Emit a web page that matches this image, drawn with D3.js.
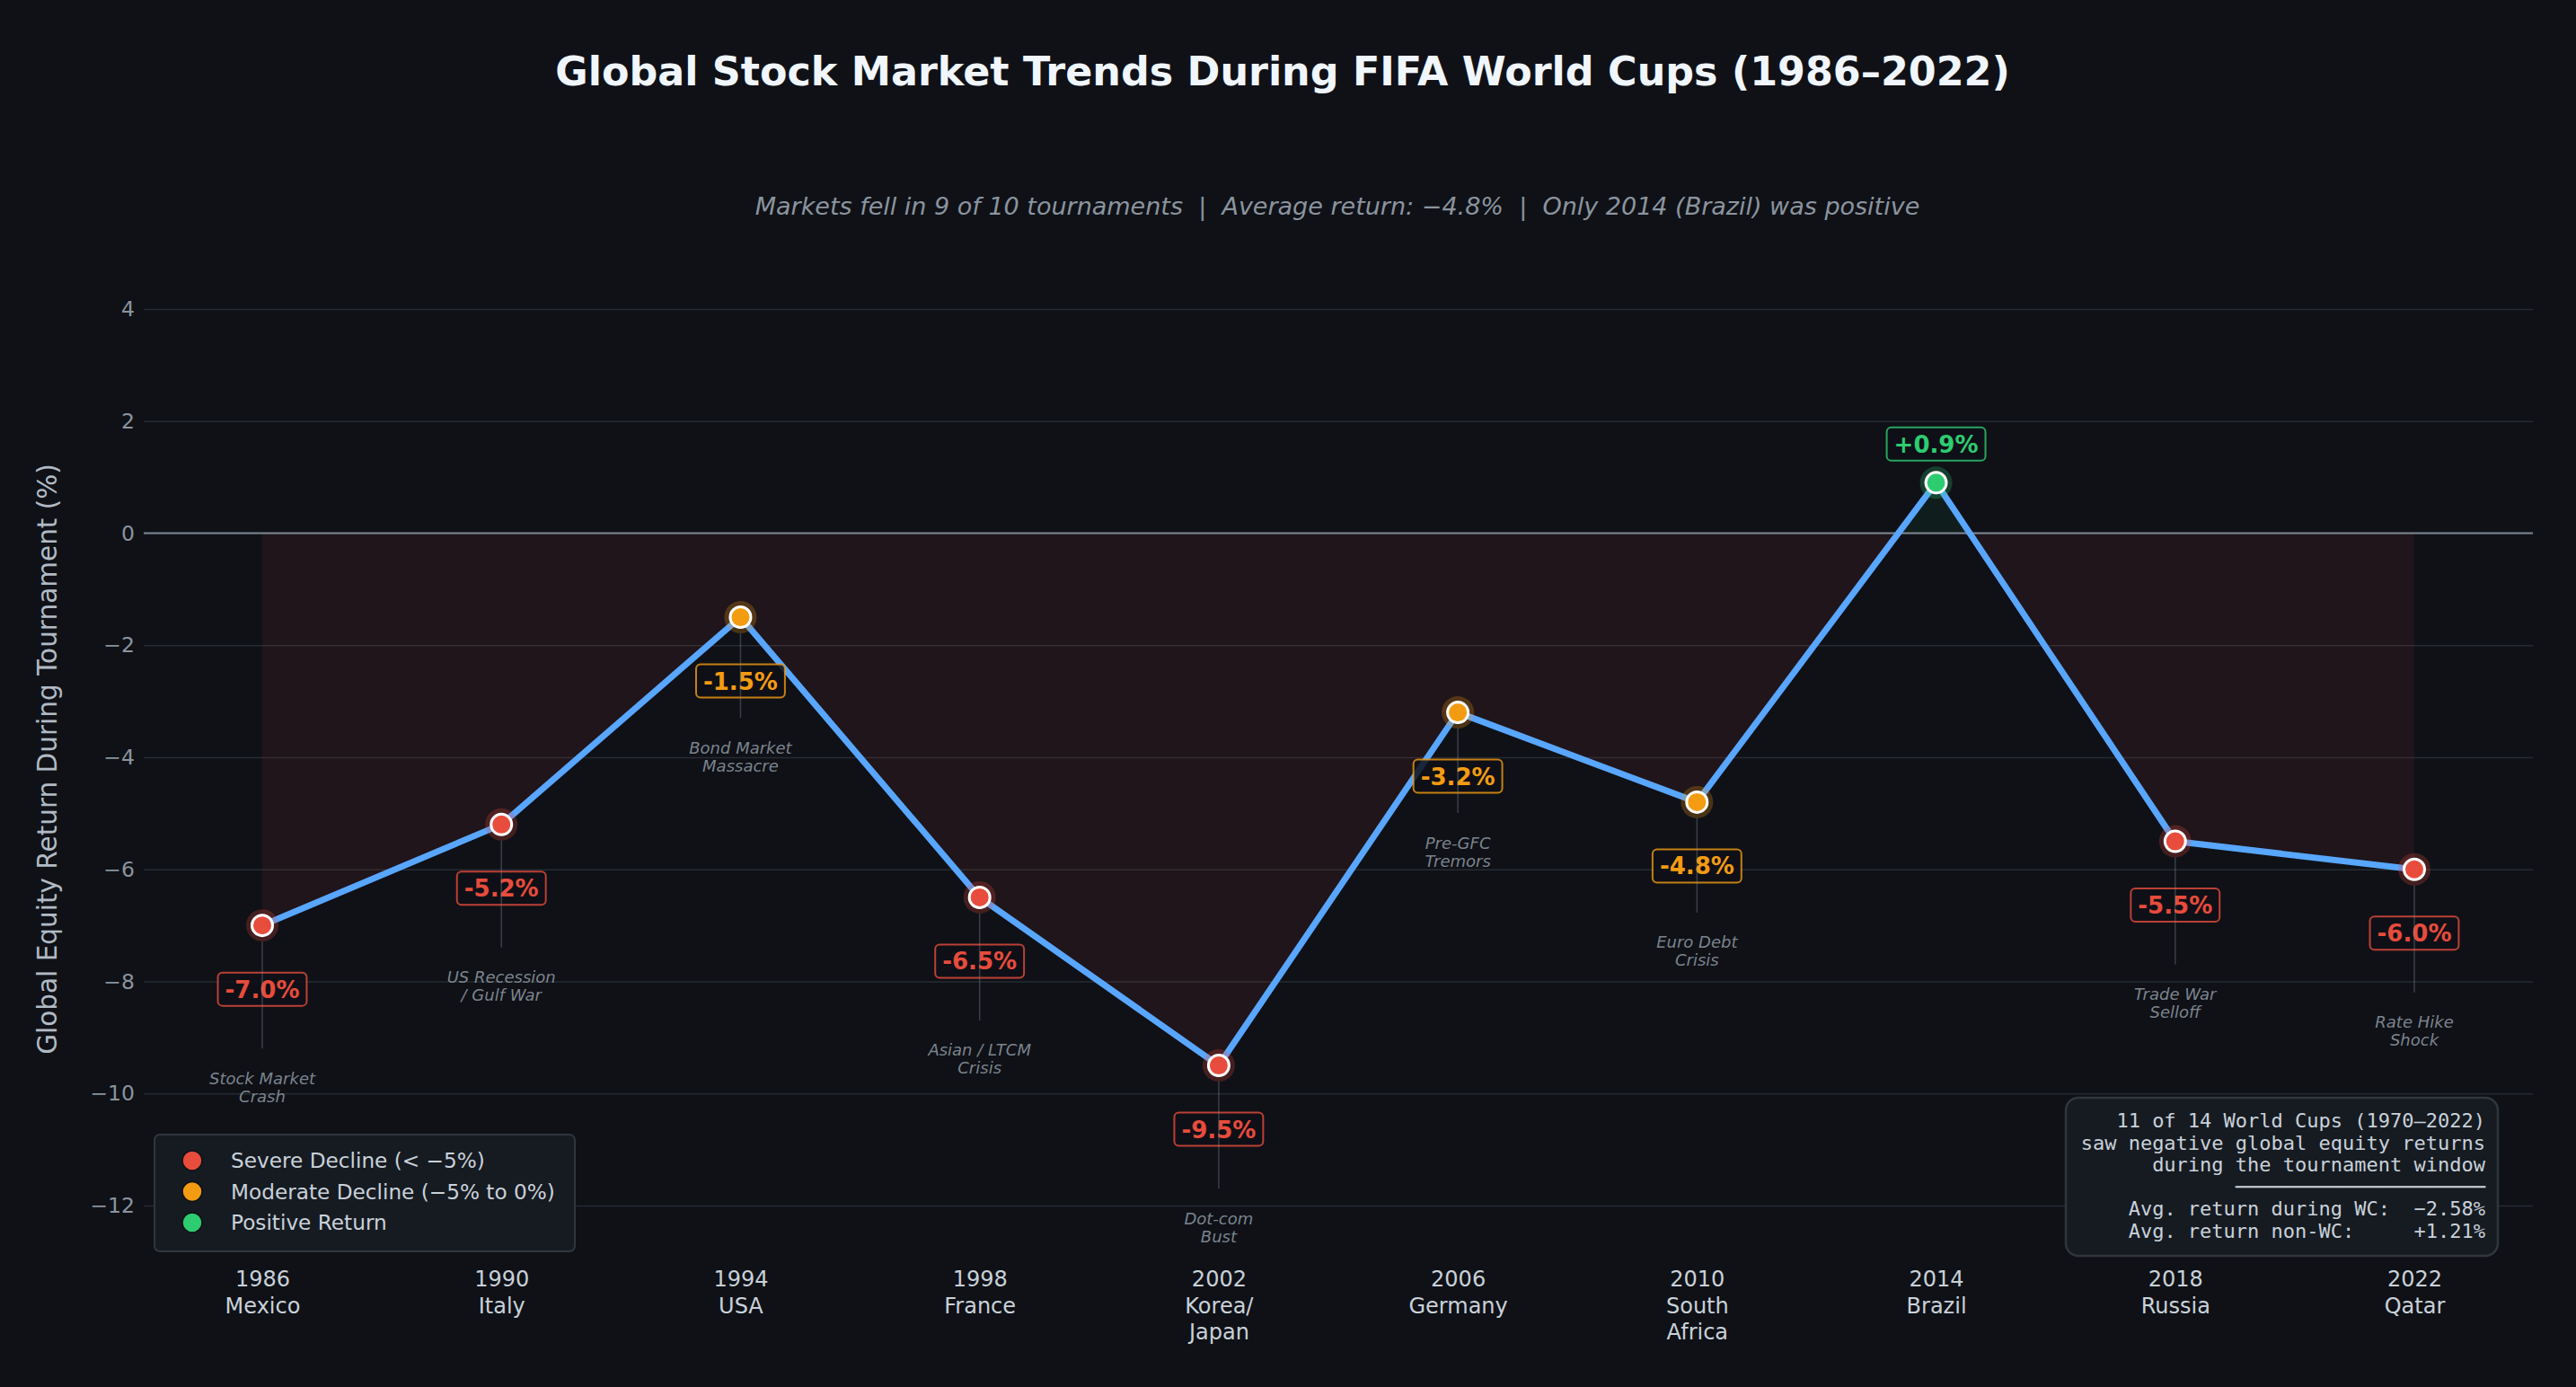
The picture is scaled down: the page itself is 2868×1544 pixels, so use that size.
<!DOCTYPE html>
<html>
<head>
<meta charset="utf-8">
<script src="https://cdn.jsdelivr.net/npm/d3@7"></script>
<style>
  body { margin: 0; background: #0f1117; }
  text { font-family: "DejaVu Sans", sans-serif; }
  .mono { font-family: "DejaVu Sans Mono", monospace; white-space: pre; }
</style>
</head>
<body>
<div class="canvas"></div>
<script>
// data
const years = ['1986', '1990', '1994', '1998', '2002', '2006', '2010', '2014', '2018', '2022'];
const hosts = ['Mexico', 'Italy', 'USA', 'France', 'Korea/\nJapan', 'Germany', 'South\nAfrica', 'Brazil', 'Russia', 'Qatar'];
const returns = [-7.0, -5.2, -1.5, -6.5, -9.5, -3.2, -4.8, 0.9, -5.5, -6.0];
const events = ['Stock Market\nCrash', 'US Recession\n/ Gulf War', 'Bond Market\nMassacre', 'Asian / LTCM\nCrisis',
    'Dot-com\nBust', 'Pre-GFC\nTremors', 'Euro Debt\nCrisis', '', 'Trade War\nSelloff', 'Rate Hike\nShock'];
const yTicks = [-12, -10, -8, -6, -4, -2, 0, 2, 4];
const legendLabels = ['Severe Decline (< \u22125%)', 'Moderate Decline (\u22125% to 0%)', 'Positive Return'];
const summaryLines = [
    '11 of 14 World Cups (1970\u20132022)',
    'saw negative global equity returns',
    'during the tournament window',
    '\u2500'.repeat(21),
    'Avg. return during WC:  \u22122.58%',
    'Avg. return non-WC:     +1.21%'
];

const data = years.map((yr, i) => ({ year: yr, host: hosts[i], value: returns[i], event: events[i] }));

const W = 2868, H = 1544;
const plot = { left: 160, right: 2820 };
const colors = { severe: '#e74c3c', moderate: '#f39c12', positive: '#2ecc71' };
const catColor = v => v < -5 ? colors.severe : (v < 0 ? colors.moderate : colors.positive);

const svg = d3.select('.canvas').append('svg')
    .attr('width', W)
    .attr('height', H);

svg.append('rect').attr('width', W).attr('height', H).attr('fill', '#0f1117');

const x = d3.scalePoint().domain(years).range([292, 2688]);
const y = d3.scaleLinear().domain([-12, 4]).range([1342, 344]);

// title + subtitle
svg.append('text')
    .attr('x', W / 2 - 6).attr('y', 95)
    .attr('text-anchor', 'middle')
    .attr('font-size', 44.4).attr('font-weight', 'bold')
    .attr('fill', '#f0f6fc')
    .text('Global Stock Market Trends During FIFA World Cups (1986\u20132022)');

svg.append('text')
    .attr('x', 1489).attr('y', 239)
    .attr('text-anchor', 'middle')
    .attr('font-size', 27).attr('font-style', 'italic')
    .attr('fill', '#8b949e')
    .style('white-space', 'pre')
    .text('Markets fell in 9 of 10 tournaments  |  Average return: \u22124.8%  |  Only 2014 (Brazil) was positive');

// y axis + grid
const yAxis = d3.axisLeft(y)
    .tickValues(yTicks)
    .tickSize(-(plot.right - plot.left))
    .tickPadding(10);

const yAxisGroup = svg.append('g')
    .attr('transform', `translate(${plot.left}, 0)`)
    .call(yAxis);

yAxisGroup.select('.domain').remove();
yAxisGroup.selectAll('line').attr('stroke', '#262b33').attr('stroke-width', 1.5);
yAxisGroup.selectAll('text')
    .attr('fill', '#8b949e')
    .attr('font-size', 23.5)
    .attr('font-family', 'DejaVu Sans');

svg.append('text')
    .attr('transform', `translate(63, ${(y(4) + y(-12)) / 2 + 2}) rotate(-90)`)
    .attr('text-anchor', 'middle')
    .attr('font-size', 29.5)
    .attr('fill', '#b1bac4')
    .text('Global Equity Return During Tournament (%)');

// shaded area between line and zero
const defs = svg.append('defs');
defs.append('clipPath').attr('id', 'below')
    .append('rect').attr('x', 0).attr('y', y(0)).attr('width', W).attr('height', H);
defs.append('clipPath').attr('id', 'above')
    .append('rect').attr('x', 0).attr('y', 0).attr('width', W).attr('height', y(0));

const area = d3.area()
    .x(d => x(d.year))
    .y0(y(0))
    .y1(d => y(d.value));

svg.append('path').datum(data)
    .attr('d', area)
    .attr('fill', 'rgba(231,76,60,0.08)')
    .attr('clip-path', 'url(#below)');

svg.append('path').datum(data)
    .attr('d', area)
    .attr('fill', 'rgba(46,204,113,0.07)')
    .attr('clip-path', 'url(#above)');

// zero line
svg.append('line')
    .attr('x1', plot.left).attr('x2', plot.right)
    .attr('y1', y(0)).attr('y2', y(0))
    .attr('stroke', '#7d8590').attr('stroke-width', 2);

// x axis labels (multi-line)
const xAxis = d3.axisBottom(x).tickSize(0).tickPadding(0);
const xAxisGroup = svg.append('g')
    .attr('transform', 'translate(0, 1414)')
    .call(xAxis);
xAxisGroup.select('.domain').remove();
xAxisGroup.selectAll('.tick text')
    .attr('fill', '#c9d1d9')
    .attr('font-size', 24)
    .attr('font-family', 'DejaVu Sans')
    .attr('dy', null)
    .attr('y', 0)
    .each(function (yr, i) {
        const t = d3.select(this);
        t.text(null);
        const lines = [yr].concat(hosts[i].split('\n'));
        lines.forEach((ln, k) => {
            t.append('tspan').attr('x', 0).attr('y', 18 + k * 29.5).text(ln);
        });
    });

// line
const line = d3.line()
    .x(d => x(d.year))
    .y(d => y(d.value));

svg.append('path').datum(data)
    .attr('d', line)
    .attr('fill', 'none')
    .attr('stroke', '#58a6ff')
    .attr('stroke-width', 7)
    .attr('stroke-linejoin', 'round');

// how far below the point the event note sits
const noteDrop = v => v < -5 ? 180 : (v < -4 ? 166 : 155);

// value labels
const labels = svg.append('g').selectAll('g')
    .data(data)
    .enter().append('g')
    .attr('transform', d => `translate(${x(d.year)}, ${y(d.value) + (d.value >= 0 ? -43 : 71)})`);

labels.each(function (d) {
    const g = d3.select(this);
    const txt = (d.value >= 0 ? '+' : '') + d.value.toFixed(1) + '%';
    const t = g.append('text')
        .attr('text-anchor', 'middle')
        .attr('y', 9.5)
        .attr('font-size', 26).attr('font-weight', 'bold')
        .attr('fill', catColor(d.value))
        .text(txt);
    const w = t.node().getComputedTextLength() + 16;
    g.insert('rect', 'text')
        .attr('x', -w / 2).attr('y', -18.5)
        .attr('width', w).attr('height', 37)
        .attr('rx', 5)
        .attr('fill', '#0f1117').attr('fill-opacity', 0.85)
        .attr('stroke', catColor(d.value)).attr('stroke-width', 2)
        .attr('stroke-opacity', 0.8);
});

// event stems + notes
const notes = data.filter(d => d.event !== '');

svg.append('g').selectAll('line')
    .data(notes)
    .enter().append('line')
    .attr('x1', d => x(d.year)).attr('x2', d => x(d.year))
    .attr('y1', d => y(d.value) + 18)
    .attr('y2', d => y(d.value) + noteDrop(d.value) - 43)
    .attr('stroke', '#8b949e').attr('stroke-opacity', 0.35)
    .attr('stroke-width', 1.5);

svg.append('g').selectAll('text')
    .data(notes)
    .enter().append('text')
    .attr('text-anchor', 'middle')
    .attr('font-size', 18).attr('font-style', 'italic')
    .attr('fill', '#8b949e').attr('fill-opacity', 0.9)
    .each(function (d) {
        const t = d3.select(this);
        const c = y(d.value) + noteDrop(d.value);
        d.event.split('\n').forEach((ln, k) => {
            t.append('tspan')
                .attr('x', x(d.year))
                .attr('y', c - 10 + k * 20 + 6.5)
                .text(ln);
        });
    });

// markers
const pts = svg.append('g').selectAll('g')
    .data(data)
    .enter().append('g')
    .attr('transform', d => `translate(${x(d.year)}, ${y(d.value)})`);

pts.append('circle')
    .attr('r', 18)
    .attr('fill', d => catColor(d.value))
    .attr('fill-opacity', 0.25);

pts.append('circle')
    .attr('r', 11.5)
    .attr('fill', d => catColor(d.value))
    .attr('stroke', '#ffffff')
    .attr('stroke-width', 3);

// legend
const legend = svg.append('g').attr('transform', 'translate(172, 1263)');
legend.append('rect')
    .attr('width', 468).attr('height', 130)
    .attr('rx', 6)
    .attr('fill', '#161b22')
    .attr('stroke', '#30363d').attr('stroke-width', 2);

const legendColors = [colors.severe, colors.moderate, colors.positive];
legendLabels.forEach((lbl, i) => {
    const row = legend.append('g').attr('transform', `translate(0, ${29 + i * 34.5})`);
    row.append('circle')
        .attr('cx', 42).attr('r', 11)
        .attr('fill', legendColors[i])
        .attr('stroke', '#0f1117').attr('stroke-width', 1.5);
    row.append('text')
        .attr('x', 85).attr('y', 8.4)
        .attr('font-size', 23.2)
        .attr('fill', '#c9d1d9')
        .text(lbl);
});

// summary box
const box = svg.append('g').attr('transform', 'translate(2300, 1222)');
box.append('rect')
    .attr('width', 481).attr('height', 176)
    .attr('rx', 14)
    .attr('fill', '#161b22')
    .attr('stroke', '#30363d').attr('stroke-width', 2.5);

box.selectAll('text.mono')
    .data(summaryLines)
    .enter().append('text')
    .attr('class', 'mono')
    .attr('x', 467)
    .attr('y', (d, i) => 25 + i * 24.6 + 8)
    .attr('text-anchor', 'end')
    .attr('font-size', 22)
    .attr('fill', '#c9d1d9')
    .text(d => d);
</script>
</body>
</html>
